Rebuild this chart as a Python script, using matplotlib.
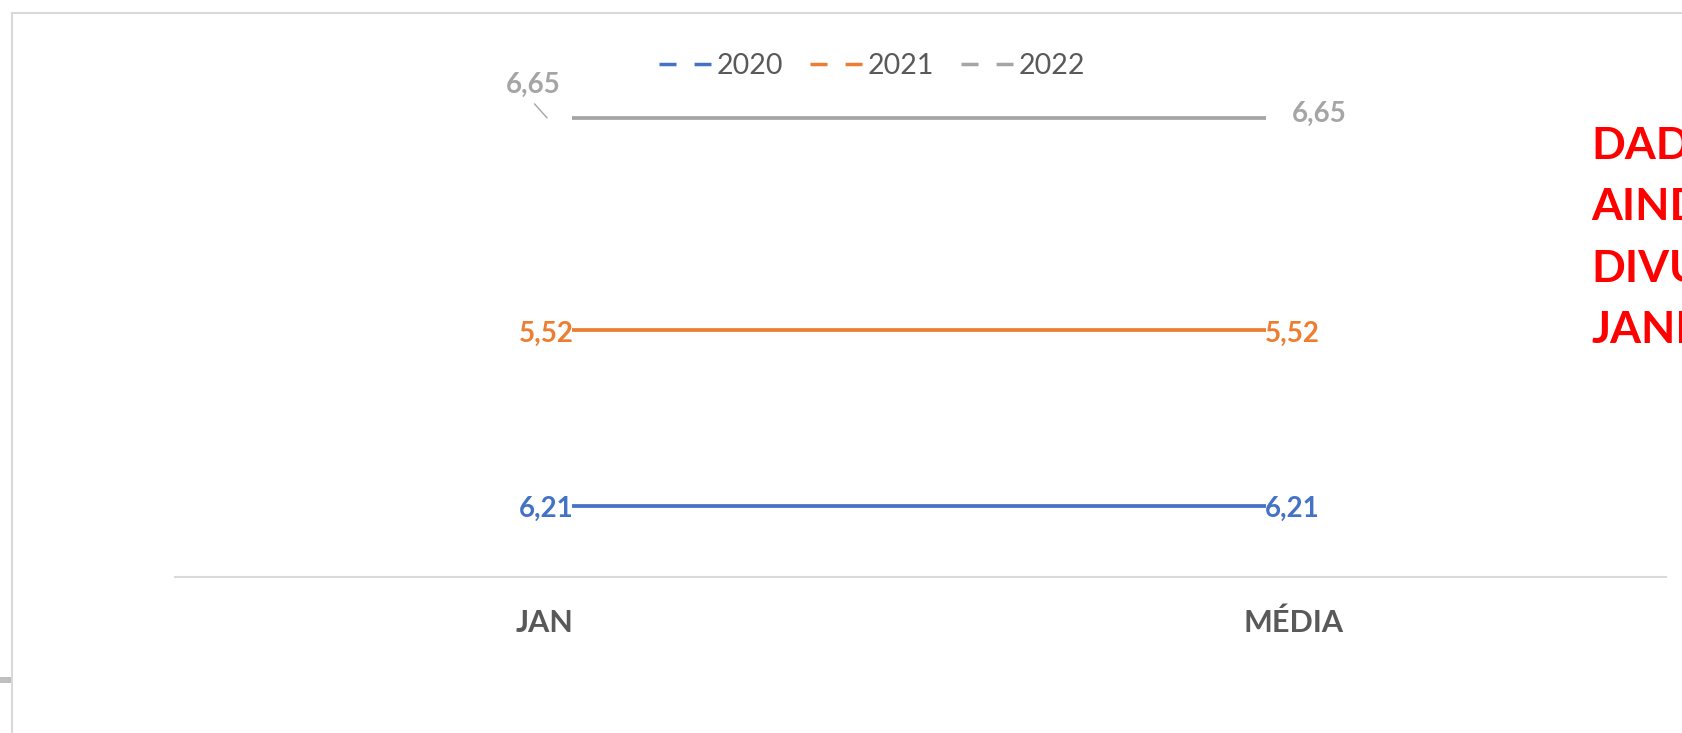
import matplotlib
matplotlib.use("Agg")
import matplotlib.pyplot as plt
from matplotlib.lines import Line2D
from matplotlib.patches import Rectangle
from matplotlib.transforms import offset_copy

# data
categories = ["JAN", "MÉDIA"]
years = ["2020", "2021", "2022"]
values_2020 = [6.21, 6.21]
values_2021 = [5.52, 5.52]
values_2022 = [6.65, 6.65]
series = [values_2020, values_2021, values_2022]
colors = ["#4472C4", "#ED7D31", "#A5A5A5"]
note = "DADOS\nAINDA NÃO\nDIVULGADOS\nJANEIRO"

# each series sits on its own value axis (Excel style), fraction of plot height
level = [0.138, 0.477, 0.888]

plt.rcParams["font.family"] = ["Lato", "DejaVu Sans"]

W, H = 1683, 733
fig = plt.figure(figsize=(W / 100, H / 100), dpi=100)
rect = [175 / W, 1 - 577 / H, (1666 - 175) / W, (577 - 60) / H]

ax = fig.add_axes(rect)
ax.set_xlim(-0.494, 1.498)
ax.set_ylim(0, 1)
ax.set_xticks(range(len(categories)))
ax.set_xticklabels(categories, fontsize=22, fontweight="bold", color="#595959")
ax.tick_params(axis="x", length=0, pad=23)
ax.set_yticks([])
for s in ["top", "left", "right"]:
    ax.spines[s].set_visible(False)
ax.spines["bottom"].set_color("#D9D9D9")
ax.spines["bottom"].set_linewidth(1.5)

x = list(range(len(categories)))
lsize = 20
for vals, col, f, yr in zip(series, colors, level, years):
    a = fig.add_axes(rect)
    a.set_xlim(-0.572, 1.576)
    a.set_ylim(0, vals[0] / f)
    a.axis("off")
    a.patch.set_visible(False)
    a.plot(x, vals, color=col, lw=2.7, solid_capstyle="butt")
    lbl = [f"{v:.2f}".replace(".", ",") for v in vals]
    if yr == "2022":
        a.annotate(lbl[0], (x[0], vals[0]), xytext=(-39, 33), textcoords="offset pixels",
                   ha="center", va="center", fontsize=lsize, fontweight="bold", color=col)
        lead = offset_copy(a.transData, fig=fig, x=-25, y=0, units="dots")
        a.annotate("", (x[0], vals[0]), xycoords=lead, xytext=(-12.5, 14),
                   textcoords="offset pixels",
                   arrowprops=dict(arrowstyle="-", color=col, lw=1, shrinkA=0, shrinkB=0))
        a.annotate(lbl[1], (x[1], vals[1]), xytext=(53, 4), textcoords="offset pixels",
                   ha="center", va="center", fontsize=lsize, fontweight="bold", color=col)
    else:
        a.annotate(lbl[0], (x[0], vals[0]), xytext=(-26, -3.5), textcoords="offset pixels",
                   ha="center", va="center", fontsize=lsize, fontweight="bold", color=col)
        a.annotate(lbl[1], (x[1], vals[1]), xytext=(26, -3.5), textcoords="offset pixels",
                   ha="center", va="center", fontsize=lsize, fontweight="bold", color=col)

handles = [Line2D([0], [0], color=c, lw=2.5, dashes=(4.9, 5.2)) for c in colors]
fig.legend(handles, years, loc="center", bbox_to_anchor=(872 / W, 1 - 66 / H),
           ncol=3, frameon=False, fontsize=20.5, labelcolor="#595959",
           handlelength=1.82, handletextpad=0.2, columnspacing=0.95)

fig.text(1591 / W, 1 - 238 / H, note, ha="left", va="center", fontsize=32,
         fontweight="bold", color="#FF0000", linespacing=1.64)

# chart border and sheet leftovers
fig.add_artist(Rectangle((12 / W, -0.5), 2, 1.5 - 13 / H, transform=fig.transFigure,
                         fill=False, edgecolor="#D9D9D9", lw=1.5))
fig.add_artist(Rectangle((0, 1 - 683 / H), 11 / W, 6 / H, transform=fig.transFigure,
                         color="#BFBFBF", lw=0))

fig.savefig("out.png", dpi=100)
